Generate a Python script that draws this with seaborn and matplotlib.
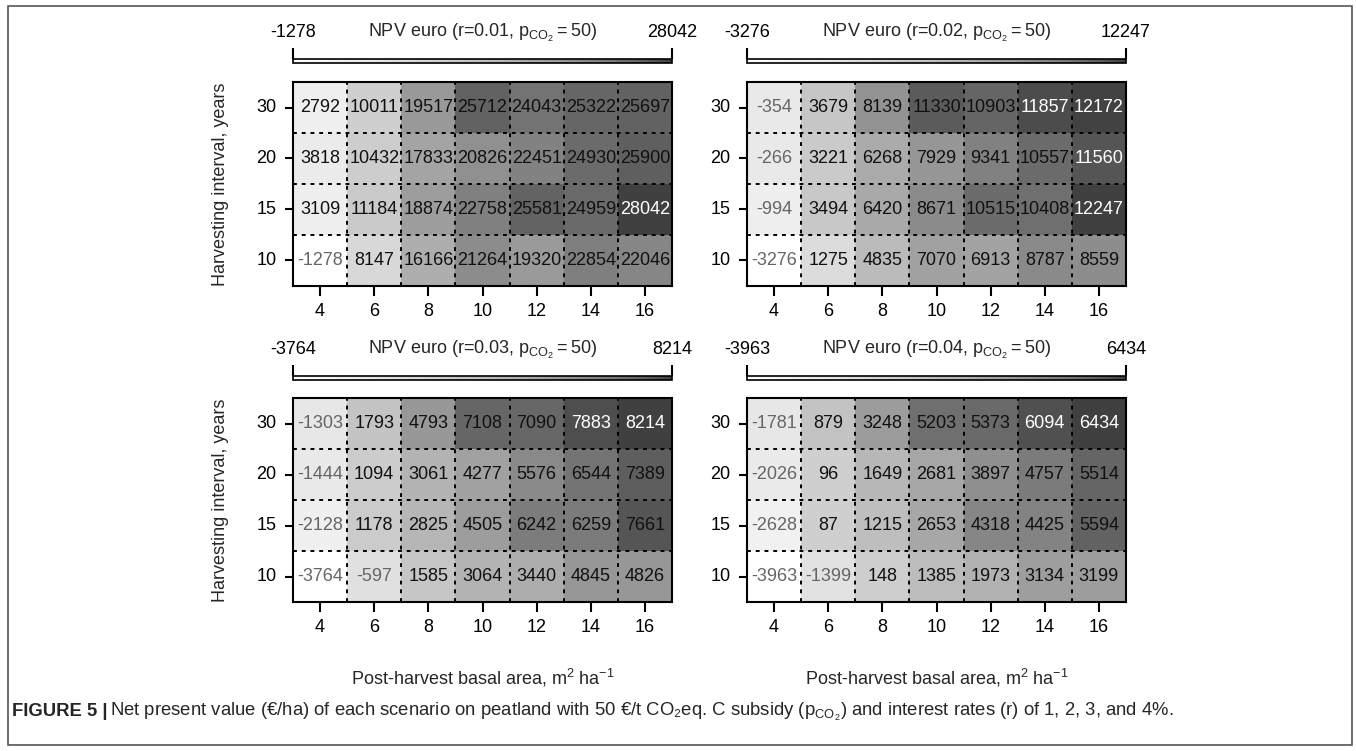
import numpy as np
import pandas as pd
import seaborn as sns
import matplotlib.pyplot as plt
from matplotlib.colors import ListedColormap
from matplotlib.patches import Rectangle

basal_area = [4, 6, 8, 10, 12, 14, 16]
interval = [30, 20, 15, 10]
rates = ["0.01", "0.02", "0.03", "0.04"]

npv_r1 = [[2792, 10011, 19517, 25712, 24043, 25322, 25697],
          [3818, 10432, 17833, 20826, 22451, 24930, 25900],
          [3109, 11184, 18874, 22758, 25581, 24959, 28042],
          [-1278, 8147, 16166, 21264, 19320, 22854, 22046]]
npv_r2 = [[-354, 3679, 8139, 11330, 10903, 11857, 12172],
          [-266, 3221, 6268, 7929, 9341, 10557, 11560],
          [-994, 3494, 6420, 8671, 10515, 10408, 12247],
          [-3276, 1275, 4835, 7070, 6913, 8787, 8559]]
npv_r3 = [[-1303, 1793, 4793, 7108, 7090, 7883, 8214],
          [-1444, 1094, 3061, 4277, 5576, 6544, 7389],
          [-2128, 1178, 2825, 4505, 6242, 6259, 7661],
          [-3764, -597, 1585, 3064, 3440, 4845, 4826]]
npv_r4 = [[-1781, 879, 3248, 5203, 5373, 6094, 6434],
          [-2026, 96, 1649, 2681, 3897, 4757, 5514],
          [-2628, 87, 1215, 2653, 4318, 4425, 5594],
          [-3963, -1399, 148, 1385, 1973, 3134, 3199]]

sns.set_theme(style="ticks")
plt.rcParams["font.family"] = ["Liberation Sans", "DejaVu Sans"]
plt.rcParams["mathtext.fontset"] = "custom"
plt.rcParams["mathtext.rm"] = "Liberation Sans"
plt.rcParams["mathtext.it"] = "Liberation Sans:italic"
plt.rcParams["axes.unicode_minus"] = False

W, H = 1356, 751
fig = plt.figure(figsize=(W / 100, H / 100), dpi=100)


def box(l, t, r, b):
    return [l / W, 1 - b / H, (r - l) / W, (b - t) / H]


# gamma-corrected grey ramp, white -> dark grey (like R's gray.colors)
lv = np.linspace(0, 1, 256)
g = (1 - (1 - 0.25 ** 2.2) * lv) ** (1 / 2.2)
grey = ListedColormap(np.column_stack([g, g, g]))

panels = [
    (npv_r1, rates[0], (293, 82, 672, 286), (293, 59, 672, 63), True, False),
    (npv_r2, rates[1], (747, 82, 1126, 286), (747, 59, 1126, 63), False, False),
    (npv_r3, rates[2], (293, 398, 672, 602), (293, 376, 672, 380), True, True),
    (npv_r4, rates[3], (747, 398, 1126, 602), (747, 376, 1126, 380), False, True),
]

for vals, r, hbox, cbox, left, bottom in panels:
    df = pd.DataFrame(vals, index=interval, columns=basal_area)
    vmin, vmax = df.values.min(), df.values.max()
    ax = fig.add_axes(box(*hbox))
    cax = fig.add_axes(box(*cbox))
    sns.heatmap(df, ax=ax, cmap=grey, vmin=vmin, vmax=vmax,
                annot=True, fmt="d", annot_kws={"size": 13},
                cbar_ax=cax, cbar_kws={"orientation": "horizontal"})

    # text colours: grey for losses, white on the darkest cells
    for t in ax.texts:
        v = int(t.get_text())
        frac = (v - vmin) / (vmax - vmin)
        if v < 0:
            t.set_color("#666666")
        elif frac >= 0.955:
            t.set_color("white")
        else:
            t.set_color("#111111")

    for i in range(1, len(basal_area)):
        ax.axvline(i, color="black", ls=(0, (2, 2.5)), lw=1.4)
    for j in range(1, len(interval)):
        ax.axhline(j, color="black", ls=(0, (2, 2.5)), lw=1.4)

    for sp in ax.spines.values():
        sp.set_visible(True)
        sp.set_linewidth(1.5)
        sp.set_color("black")
    ax.tick_params(axis="both", width=1.5, direction="out", labelsize=13,
                   colors="black", left=True, bottom=True)
    ax.tick_params(axis="y", length=6, pad=6)
    ax.tick_params(axis="x", length=7.5, pad=5)
    ax.set_yticklabels(interval, rotation=0)
    ax.set_xticklabels(basal_area, rotation=0)
    ax.set_xlabel("")
    ax.set_ylabel("")
    if left:
        ax.set_ylabel("Harvesting interval, years", fontsize=13)
        ax.yaxis.set_label_coords(-0.168, 0.5)
    if bottom:
        ax.set_xlabel("Post-harvest basal area, m$^2$ ha$^{-1}$", fontsize=13)
        ax.xaxis.set_label_coords(0.5, -0.32)

    cbar = ax.collections[0].colorbar
    cbar.set_ticks([vmin, vmax])
    cbar.set_ticklabels([str(vmin), str(vmax)])
    cbar.outline.set_linewidth(1.2)
    cbar.outline.set_edgecolor("black")
    cax.minorticks_off()
    cax.xaxis.set_ticks_position("top")
    cax.tick_params(axis="x", top=True, bottom=False, length=8, width=1.5,
                    pad=5, labelsize=13, colors="black")
    cax.annotate("NPV euro (r=" + r + r", $\mathrm{p_{CO_2}=50}$)",
                 xy=(0.5, 1), xycoords="axes fraction", xytext=(0, 16),
                 textcoords="offset points", ha="center", va="baseline",
                 fontsize=13)

# outer frame of the figure panel
fig.patches.append(Rectangle((8 / W, 1 - 745 / H), (1352 - 8) / W, (745 - 6) / H,
                             transform=fig.transFigure, fill=False,
                             edgecolor="#555555", lw=1.2))

cy = 1 - 712 / H
t1 = fig.text(12 / W, cy, "FIGURE 5 |", fontsize=13.3, weight="bold", va="center")
fig.canvas.draw()
bb = t1.get_window_extent(fig.canvas.get_renderer())
fig.text(bb.x1 / W + 3 / W, cy,
         "Net present value (\u20ac/ha) of each scenario on peatland with 50 \u20ac/t CO\u2082eq. "
         "C subsidy ($\\mathrm{p_{CO_2}}$) and interest rates (r) of 1, 2, 3, and 4%.",
         fontsize=13.3, va="center")

plt.savefig("out.png", dpi=100)
